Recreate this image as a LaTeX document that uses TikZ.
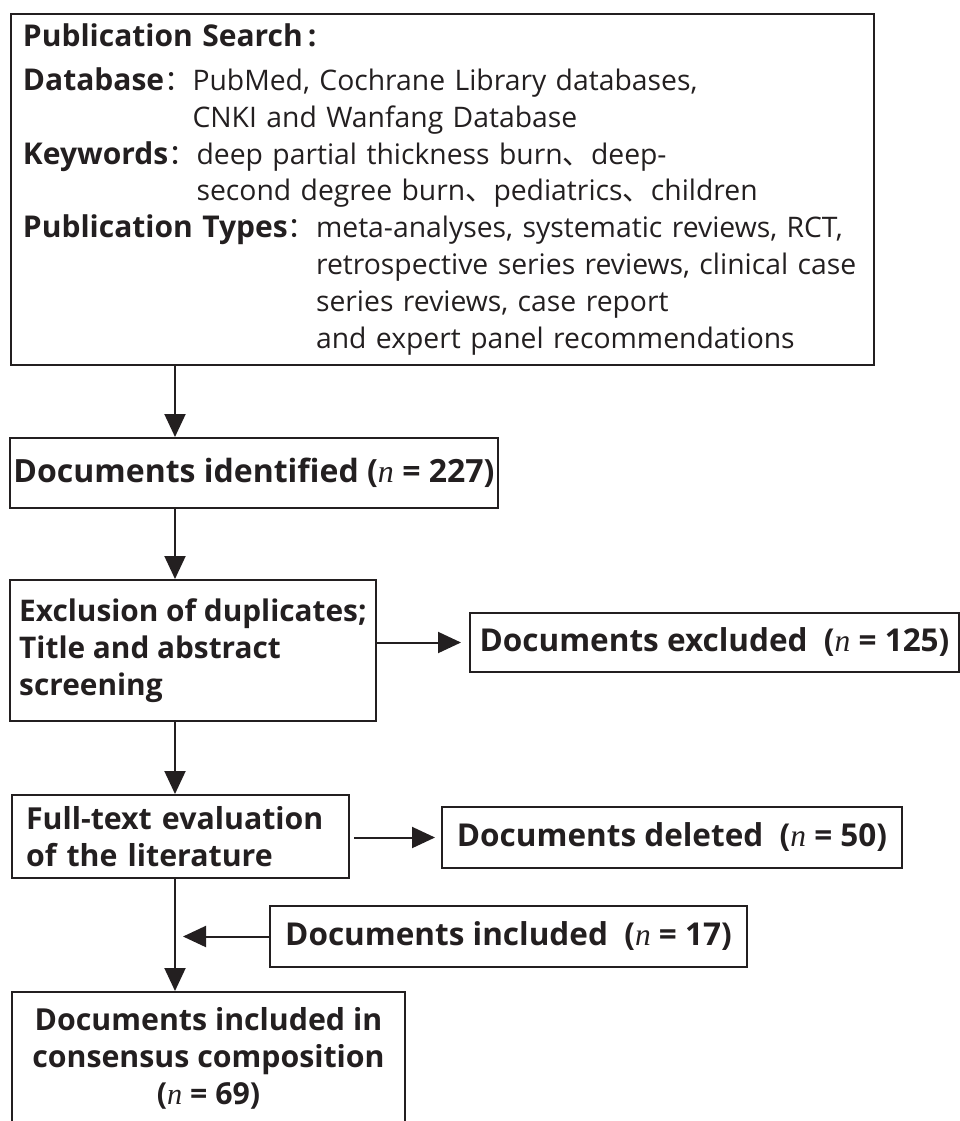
\documentclass[tikz,border=0pt]{standalone}
\usepackage{fontspec}
\setmainfont{Open Sans}
\newfontfamily\cjk{Noto Sans CJK SC}
\newfontfamily\nfont{Liberation Serif}
\usetikzlibrary{arrows.meta}
\definecolor{ink}{RGB}{35,31,32}
\newcommand{\nvar}{{\nfont\itshape\mdseries n}}
\newcommand{\cc}{{\cjk\mdseries ：}}
\newcommand{\dun}{{\cjk 、}}
\newcommand{\lab}[1]{{\bfseries\fontsize{30}{36.5}\selectfont #1}}
\begin{document}
\begin{tikzpicture}[x=1pt,y=-1pt,ink,
    box/.style={draw=ink,line width=2pt,inner sep=0pt,anchor=north west},
    arr/.style={draw=ink,line width=2pt,-{Triangle[length=23pt,width=21pt]}},
    big/.style={font=\bfseries\fontsize{30.3}{37}\selectfont},
    side/.style={font=\bfseries\fontsize{31.5}{37}\selectfont}]
    \useasboundingbox (0,0) rectangle (960,1121);
    \clip (0,0) rectangle (960,1121);
    \coordinate (trunk) at (175,0);

    \node[box,minimum width=863pt,minimum height=351pt,text width=839pt,align=left,
        font=\fontsize{28.3}{36.8}\selectfont] (search) at (10,13) {%
        \lab{Publication Search\,:}\\[7pt]
        \lab{Database}\cc PubMed, Cochrane Library databases,\\
        \hphantom{\lab{Database}\cc}CNKI and Wanfang Database\\
        \lab{Keywords}\cc deep partial thickness burn\dun deep-\\
        \hphantom{\lab{Keywords}\cc}second degree burn\dun pediatrics\dun children\\
        \lab{Publication Types}\cc meta-analyses, systematic reviews, RCT,\\
        \hphantom{\lab{Publication Types}\cc}retrospective series reviews, clinical case\\
        \hphantom{\lab{Publication Types}\cc}series reviews, case report\\
        \hphantom{\lab{Publication Types}\cc}and expert panel recommendations};

    \node[box,minimum width=488pt,minimum height=70pt,font=\bfseries\fontsize{32}{37}\selectfont] (ident) at (9,437)
        {Documents identified (\nvar{} = 227)};

    \node[box,font=\bfseries\fontsize{29.8}{37}\selectfont,minimum width=366pt,minimum height=141pt,align=left] (screen) at (9,579)
        {Exclusion of duplicates;\\Title and abstract\\screening};
    \node[box,side,minimum width=489pt,minimum height=59pt] (excl) at (469,612)
        {Documents excluded\ \ (\nvar{} = 125)};

    \node[box,big,minimum width=337pt,minimum height=83pt,text width=309pt,align=left] (fulltext) at (11,794)
        {Full-text evaluation\\of the literature};
    \node[box,side,minimum width=460pt,minimum height=61pt] (deleted) at (441,806)
        {Documents deleted\ \ (\nvar{} = 50)};
    \node[box,side,minimum width=477pt,minimum height=61pt] (included) at (269,905)
        {Documents included\ \ (\nvar{} = 17)};

    \node[box,big,minimum width=393pt,minimum height=132pt,align=center] (final) at (11,991)
        {Documents included in\\consensus composition\\(\nvar{} = 69)};

    \draw[arr] (search.south -| trunk) -- (ident.north -| trunk);
    \draw[arr] (ident.south -| trunk) -- (screen.north -| trunk);
    \draw[arr,shorten >=8pt] (screen.east |- excl.west) -- (excl.west);
    \draw[arr] (screen.south -| trunk) -- (fulltext.north -| trunk);
    \draw[arr,shorten <=4pt,shorten >=6pt] (fulltext.east |- deleted.west) -- (deleted.west);
    \draw[arr,shorten >=8pt] (included.west) -- (included.west -| trunk);
    \draw[arr] (fulltext.south -| trunk) -- (final.north -| trunk);
\end{tikzpicture}
\end{document}
